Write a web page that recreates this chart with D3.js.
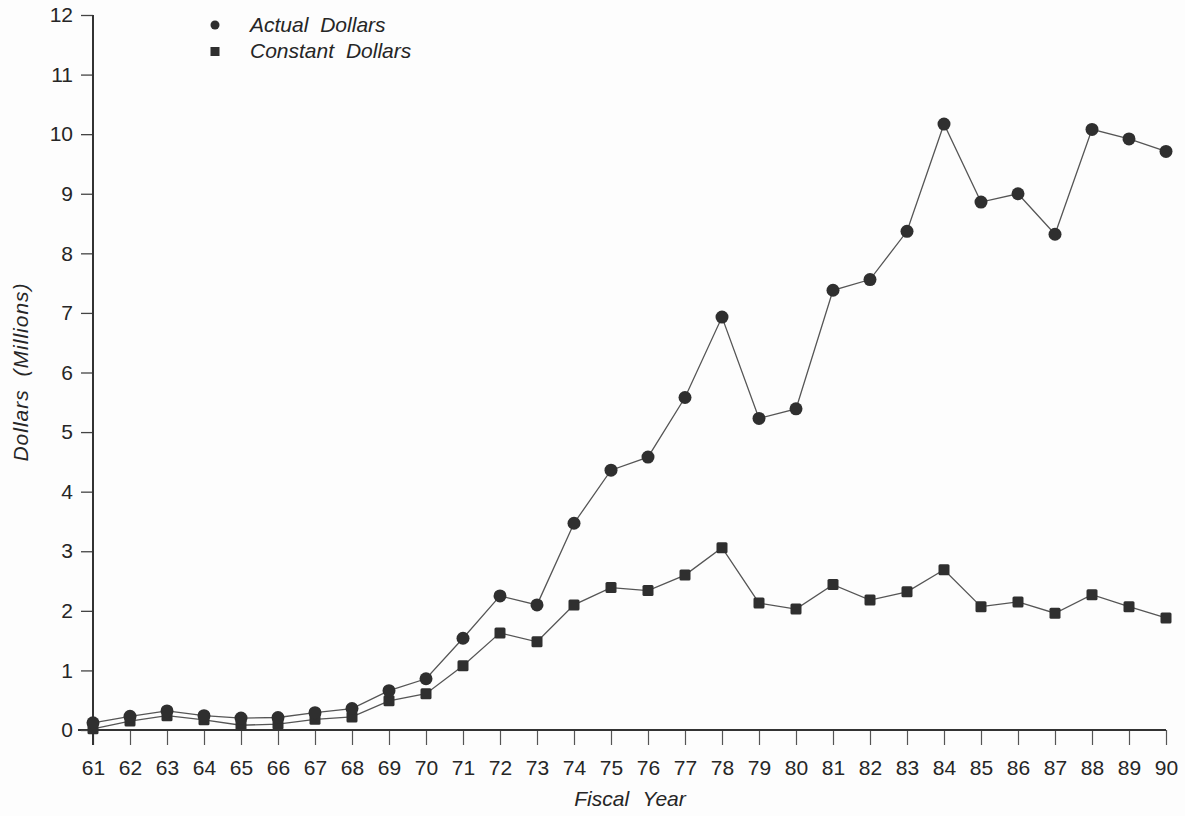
<!DOCTYPE html>
<html>
<head>
<meta charset="utf-8">
<script src="https://cdn.jsdelivr.net/npm/d3@7"></script>
<style>
  html, body { margin: 0; padding: 0; background: #fdfdfd; }
  svg { display: block; font-family: "Liberation Sans", Arial, sans-serif; }
  .tick text { fill: #262626; }
</style>
</head>
<body>
<div id="chart"></div>
<script>
// fiscal years 1961 - 1990
const years = ["61","62","63","64","65","66","67","68","69","70","71","72","73","74","75",
               "76","77","78","79","80","81","82","83","84","85","86","87","88","89","90"];
// dollars in millions
const actualDollars = [0.12, 0.23, 0.32, 0.24, 0.2, 0.21, 0.29, 0.36, 0.66, 0.86, 1.54,
                       2.25, 2.1, 3.47, 4.36, 4.58, 5.58, 6.93, 5.23, 5.39, 7.38, 7.56,
                       8.37, 10.17, 8.86, 9.0, 8.32, 10.08, 9.92, 9.71];
const constantDollars = [0.02, 0.15, 0.24, 0.17, 0.08, 0.1, 0.18, 0.22, 0.49, 0.61, 1.08,
                         1.63, 1.48, 2.1, 2.39, 2.34, 2.6, 3.06, 2.13, 2.03, 2.44, 2.18,
                         2.32, 2.69, 2.07, 2.15, 1.96, 2.27, 2.07, 1.88];
const yTicks = [0,1,2,3,4,5,6,7,8,9,10,11,12];

const W = 1185, H = 816;
const svg = d3.select("#chart").append("svg")
    .attr("width", W).attr("height", H);

// plot area
const x = d3.scalePoint().domain(years).range([93, 1166]);
const y = d3.scaleLinear().domain([0, 12]).range([730, 15]);

// x axis (ticks go down from the baseline)
const xAxis = svg.append("g")
    .attr("transform", `translate(0,${y(0)})`)
    .call(d3.axisBottom(x).tickSize(15));
xAxis.select(".domain").remove();
xAxis.selectAll("line").attr("stroke", "#555").attr("stroke-width", 1.2);
xAxis.selectAll("text").attr("font-size", 21).attr("dy", "0.35em").attr("y", 38);
svg.append("line")
    .attr("x1", 78).attr("x2", 1166)
    .attr("y1", y(0)).attr("y2", y(0))
    .attr("stroke", "#333").attr("stroke-width", 2);

// y axis
const yAxis = svg.append("g")
    .attr("transform", `translate(93,0)`)
    .call(d3.axisLeft(y).tickValues(yTicks).tickSize(12).tickPadding(8));
yAxis.select(".domain").remove();
yAxis.selectAll("line").attr("stroke", "#444").attr("stroke-width", 1.3);
yAxis.selectAll("text").attr("font-size", 21);
svg.append("line")
    .attr("x1", 93).attr("x2", 93)
    .attr("y1", y(12)).attr("y2", y(0) + 15)
    .attr("stroke", "#333").attr("stroke-width", 2);

// axis titles
svg.append("text")
    .attr("transform", `translate(21,${372}) rotate(-90)`)
    .attr("text-anchor", "middle").attr("dy", "0.35em")
    .attr("font-size", 21).attr("font-style", "italic").attr("fill", "#262626")
    .attr("letter-spacing", 1).attr("word-spacing", 6)
    .text("Dollars (Millions)");
svg.append("text")
    .attr("x", 630).attr("y", 806)
    .attr("text-anchor", "middle")
    .attr("font-size", 21).attr("font-style", "italic").attr("fill", "#262626")
    .attr("word-spacing", 8)
    .text("Fiscal Year");

const line = d3.line()
    .x((d, i) => x(years[i]))
    .y(d => y(d));

// constant dollars
svg.append("path")
    .datum(constantDollars)
    .attr("d", line)
    .attr("fill", "none").attr("stroke", "#555").attr("stroke-width", 1.3);
svg.append("g").selectAll("rect")
    .data(constantDollars)
    .join("rect")
    .attr("x", (d, i) => x(years[i]) - 5.5)
    .attr("y", d => y(d) - 5.5)
    .attr("width", 11).attr("height", 11)
    .attr("rx", 1.5)
    .attr("fill", "#2f2f2f");

// actual dollars
svg.append("path")
    .datum(actualDollars)
    .attr("d", line)
    .attr("fill", "none").attr("stroke", "#555").attr("stroke-width", 1.3);
svg.append("g").selectAll("circle")
    .data(actualDollars)
    .join("circle")
    .attr("cx", (d, i) => x(years[i]))
    .attr("cy", d => y(d))
    .attr("r", 6.5)
    .attr("fill", "#2f2f2f");

// legend
const legend = svg.append("g").attr("transform", "translate(215,25)");
legend.append("circle").attr("cx", 0).attr("cy", 0).attr("r", 4.5).attr("fill", "#2f2f2f");
legend.append("rect").attr("x", -4.5).attr("y", 22).attr("width", 9).attr("height", 9).attr("fill", "#2f2f2f");
legend.append("text").attr("x", 35).attr("y", 0).attr("dy", "0.35em")
    .attr("font-size", 21).attr("font-style", "italic").attr("fill", "#262626")
    .attr("word-spacing", 6)
    .text("Actual Dollars");
legend.append("text").attr("x", 35).attr("y", 26).attr("dy", "0.35em")
    .attr("font-size", 21).attr("font-style", "italic").attr("fill", "#262626")
    .attr("word-spacing", 6)
    .text("Constant Dollars");
</script>
</body>
</html>
